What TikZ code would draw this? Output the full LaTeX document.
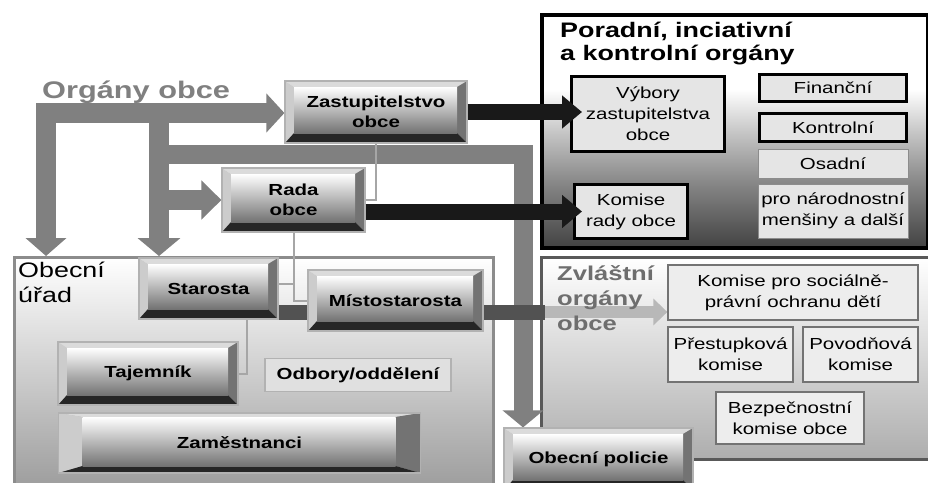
\documentclass[tikz,border=0pt]{standalone}
\usepackage{fontspec}
\setmainfont{Liberation Sans}[FakeStretch=1.28]
\usetikzlibrary{arrows.meta}
\pgfdeclarelayer{back}
\pgfdeclarelayer{mid}
\pgfsetlayers{back,mid,main}
\pgfdeclareverticalshading{panelA}{100bp}{color(0bp)=(black!76); color(25bp)=(black!74); color(39bp)=(black!47); color(50bp)=(black!22); color(59bp)=(white); color(100bp)=(white)}
\definecolor{garr}{HTML}{808080}
\def\bvl{9pt}\def\bvr{10pt}\def\bvt{6pt}\def\bvb{10pt}
\tikzset{
  bev/.style={draw=black!30, line width=1.2pt, inner sep=0pt, align=center, text=black,
    font=\bfseries\fontsize{16}{20}\selectfont,
    path picture={
      \coordinate (bvsw) at (path picture bounding box.south west);
      \coordinate (bvse) at (path picture bounding box.south east);
      \coordinate (bvnw) at (path picture bounding box.north west);
      \coordinate (bvne) at (path picture bounding box.north east);
      \coordinate (bvisw) at ([shift={(\bvl,\bvb)}]bvsw);
      \coordinate (bvise) at ([shift={(-\bvr,\bvb)}]bvse);
      \coordinate (bvinw) at ([shift={(\bvl,-\bvt)}]bvnw);
      \coordinate (bvine) at ([shift={(-\bvr,-\bvt)}]bvne);
      \fill[black!14] (bvnw) -- (bvne) -- (bvine) -- (bvinw) -- cycle;
      \fill[black!20] (bvnw) -- (bvinw) -- (bvisw) -- (bvsw) -- cycle;
      \fill[black!55] (bvne) -- (bvine) -- (bvise) -- (bvse) -- cycle;
      \fill[black!85] (bvsw) -- (bvisw) -- (bvise) -- (bvse) -- cycle;
      \shade[top color=white, bottom color=black!55] (bvisw) rectangle (bvine);
    }},
  bevwide/.style={bev, /utils/exec={\def\bvl{24pt}\def\bvr{25pt}\def\bvt{4pt}\def\bvb{7pt}}},
  pbox/.style={draw=black, line width=3pt, fill=black!10, inner sep=0pt, align=center,
    font=\fontsize{16}{21}\selectfont},
  tbox/.style={draw=black!45, line width=1pt, fill=black!10, inner sep=0pt, align=center,
    font=\fontsize{16}{21}\selectfont},
  zbox/.style={draw=black!55, line width=1.3pt, fill=black!7, inner sep=0pt, align=center,
    font=\fontsize{16}{21}\selectfont},
  garrow/.style={draw=garr, line width=20pt, line join=miter},
  barrow/.style={draw=black!90, line width=16pt, -{Triangle[width=32pt,length=20pt]}},
  thinline/.style={draw=black!35, line width=2pt},
}
\begin{document}
\begin{tikzpicture}[x=1pt,y=-1pt]
\clip (0,0) rectangle (928,482);

% panels
\begin{pgfonlayer}{back}
\fill[white] (0,0) rectangle (928,482);
\node[draw=black, line width=3.5pt, shading=panelA, anchor=north west, inner sep=0,
  minimum width=386, minimum height=233] (por) at (540,13) {};
\node[draw=black!65, line width=3pt, top color=white, bottom color=black!32, anchor=north west,
  inner sep=0, minimum width=400, minimum height=202] (zvl) at (540,256) {};
\node[draw=black!45, line width=3pt, top color=white, bottom color=black!40, anchor=north west,
  inner sep=0, minimum width=479, minimum height=240] (ou) at (13,256) {};
\end{pgfonlayer}

% headings
\node[anchor=base west, text=black!50, font=\bfseries\fontsize{24}{28}\selectfont, inner sep=0]
  (org) at (42,98) {Orgány obce};
\node[anchor=north west, align=left, inner sep=0, font=\bfseries\fontsize{21}{23}\selectfont]
  (port) at (560,22) {Poradní, inciativní\\a kontrolní orgány};
\node[anchor=north west, align=left, inner sep=0, font=\fontsize{21}{25}\selectfont]
  (out) at (18,262) {Obecní\\úřad};
\node[anchor=north west, align=left, inner sep=0, text=black!57, font=\bfseries\fontsize{20}{25}\selectfont]
  (zvt) at (557,265) {Zvláštní\\orgány\\obce};

% top right boxes
\node[pbox, minimum width=153, minimum height=75] (vyb) at (648,113.5) {Výbory\\zastupitelstva\\obce};
\node[pbox, minimum width=147, minimum height=27] (fin) at (833,88) {Finanční};
\node[pbox, minimum width=147, minimum height=28] (kon) at (833,127.5) {Kontrolní};
\node[tbox, minimum width=150, minimum height=29] (osa) at (833,163.5) {Osadní};
\node[tbox, minimum width=150, minimum height=54] (men) at (833,211) {pro národnostní\\menšiny a další};
\node[pbox, minimum width=113, minimum height=54] (kom) at (631,211.5) {Komise\\rady obce};

% bottom right boxes
\node[zbox, minimum width=250, minimum height=55] (sod) at (793,292.5) {Komise pro sociálně-\\právní ochranu dětí};
\node[zbox, minimum width=125, minimum height=55] (pre) at (730.5,354.5) {Přestupková\\komise};
\node[zbox, minimum width=115, minimum height=55] (pov) at (860.5,354.5) {Povodňová\\komise};
\node[zbox, minimum width=148, minimum height=52] (bez) at (790,418) {Bezpečnostní\\komise obce};

% bevel boxes
\node[bev, minimum width=182, minimum height=62] (zast) at (376,112) {Zastupitelstvo\\obce};
\node[bev, minimum width=143, minimum height=64] (rada) at (293.5,200) {Rada\\obce};
\node[bev, minimum width=139, minimum height=61] (staro) at (208.5,288.5) {Starosta};
\node[bev, minimum width=175, minimum height=61] (misto) at (395.5,300.5) {Místostarosta};
\node[bev, minimum width=180, minimum height=63] (taj) at (148,373.5) {Tajemník};
\node[bevwide, minimum width=362, minimum height=60] (zam) at (239.5,443) {Zaměstnanci};
\node[bev, minimum width=189, minimum height=62] (pol) at (598.5,459) {Obecní policie};
\node[draw=black!30, line width=1.5pt, fill=black!12, minimum width=186, minimum height=33,
  inner sep=0, font=\bfseries\fontsize{16}{20}\selectfont] (odb) at (358,375) {Odbory/oddělení};

% connectors under the boxes
\begin{pgfonlayer}{mid}
\coordinate (c1) at (46,113);
\coordinate (c2) at (159,113);
\coordinate (c3) at (159,154);
\coordinate (c4) at (523,154);
\draw[garrow, {Triangle[width=40pt,length=18pt]}-{Triangle[width=38pt,length=18pt]}]
  (c1 |- ou.north) -- (c1) -- (c1 -| zast.west);
\draw[garrow, -{Triangle[width=42pt,length=18pt]}] (c2) -- (c2 |- ou.north);
\draw[garrow, line width=19pt, -{Triangle[width=40pt,length=17pt]}] (c3) -- (c4) -- (c4 |- pol.north);
\draw[garrow, -{Triangle[width=38pt,length=20pt]}] (c2 |- rada.west) -- (rada.west);

\draw[thinline] (zast.south) |- (rada.east);
\draw[thinline] (rada.south) |- (misto.west);
\coordinate (se) at ([yshift=5pt]staro.east);
\draw[thinline] (se) -- (se -| rada.south);
\coordinate (sb) at ([xshift=38.5pt]staro.south);
\draw[thinline] (sb) |- (taj.east);

\coordinate (dk) at (545,312);
\draw[draw=black!68, line width=15pt] (staro.east |- dk) -- (dk);
\draw[draw=black!28, line width=12pt, -{Triangle[width=26pt,length=14pt]}] (dk) -- (sod.west |- dk);
\end{pgfonlayer}

% black arrows over the boxes
\coordinate (vt) at ([xshift=12pt]vyb.west);
\draw[barrow] (zast.east) -- (vt |- zast.east);
\coordinate (kt) at ([xshift=9pt]kom.west);
\draw[barrow] (rada.east |- kom.west) -- (kt);
\end{tikzpicture}
\end{document}
